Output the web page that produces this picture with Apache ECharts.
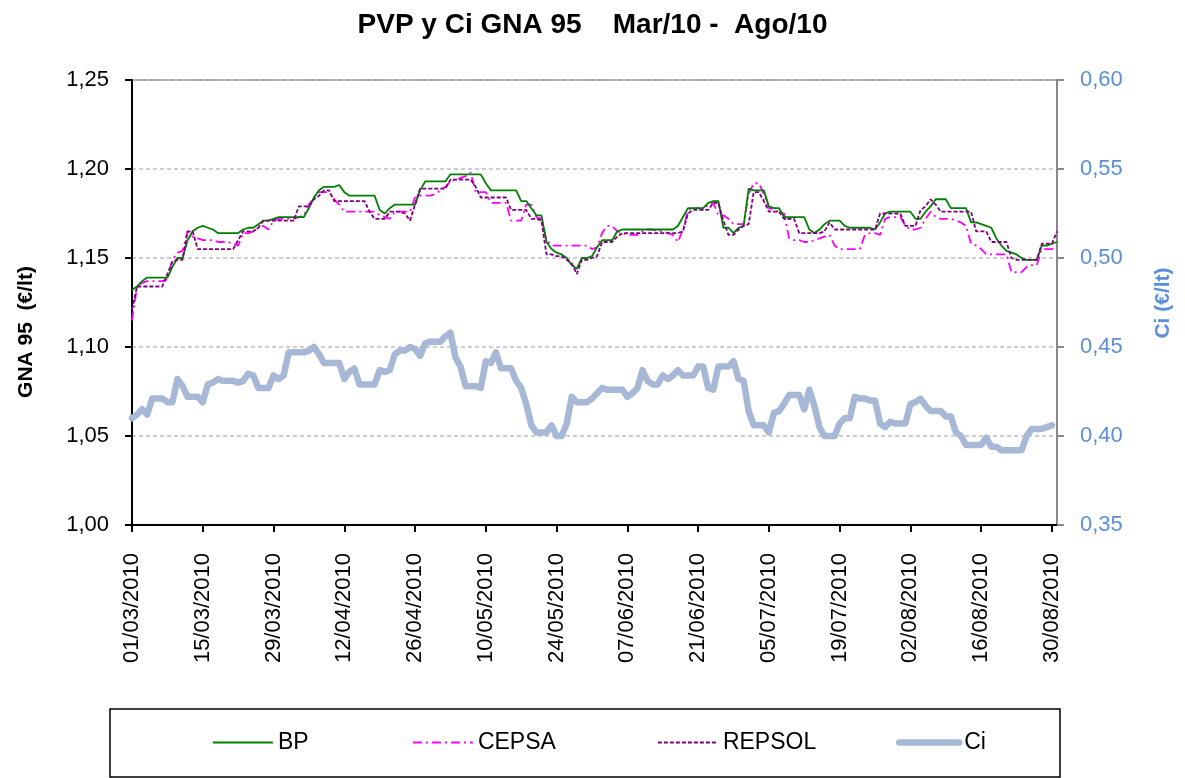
<!DOCTYPE html>
<html>
<head>
<meta charset="utf-8">
<title>PVP y Ci GNA 95</title>
<script src="https://cdn.jsdelivr.net/npm/echarts@6/dist/echarts.min.js"></script>
<style>
  html, body { margin: 0; padding: 0; background: #fff; }
  #chart { width: 1185px; height: 778px; }
</style>
</head>
<body>
<div id="chart"></div>
<script>
// fechas diarias 01/03/2010 .. 31/08/2010
var startDate = Date.UTC(2010, 2, 1);
var dayCount = 184;
var categories = [];
for (var d = 0; d < dayCount; d++) {
  var dt = new Date(startDate + d * 86400000);
  var dd = ('0' + dt.getUTCDate()).slice(-2);
  var mm = ('0' + (dt.getUTCMonth() + 1)).slice(-2);
  categories.push(dd + '/' + mm + '/' + dt.getUTCFullYear());
}

var bp = [
  1.132,1.134,1.137,1.139,1.139,1.139,1.139,1.139,1.145,1.150,
  1.150,1.160,1.165,1.167,1.168,1.167,1.166,1.164,1.164,1.164,
  1.164,1.164,1.166,1.167,1.167,1.169,1.171,1.171,1.172,1.173,
  1.173,1.173,1.173,1.173,1.173,1.178,1.184,1.188,1.190,1.190,
  1.190,1.191,1.187,1.185,1.185,1.185,1.185,1.185,1.185,1.177,
  1.175,1.178,1.180,1.180,1.180,1.180,1.180,1.188,1.193,1.193,
  1.193,1.193,1.193,1.197,1.197,1.197,1.197,1.197,1.197,1.197,
  1.192,1.188,1.188,1.188,1.188,1.188,1.188,1.182,1.182,1.178,
  1.174,1.174,1.159,1.155,1.153,1.152,1.150,1.146,1.144,1.150,
  1.150,1.151,1.156,1.160,1.160,1.160,1.165,1.166,1.166,1.166,
  1.166,1.166,1.166,1.166,1.166,1.166,1.166,1.166,1.168,1.173,
  1.178,1.178,1.178,1.178,1.181,1.182,1.182,1.167,1.167,1.164,
  1.167,1.168,1.189,1.188,1.188,1.188,1.179,1.178,1.178,1.173,
  1.173,1.173,1.173,1.173,1.166,1.164,1.166,1.169,1.171,1.171,
  1.171,1.168,1.167,1.167,1.167,1.167,1.167,1.166,1.170,1.175,
  1.176,1.176,1.176,1.176,1.176,1.172,1.172,1.176,1.179,1.183,
  1.183,1.183,1.178,1.178,1.178,1.178,1.170,1.170,1.169,1.168,
  1.167,1.161,1.157,1.154,1.153,1.152,1.150,1.149,1.149,1.149,
  1.157,1.157,1.158,1.159
];

var cepsa = [
  1.115,1.134,1.136,1.137,1.137,1.137,1.137,1.138,1.149,1.153,
  1.154,1.165,1.162,1.161,1.160,1.160,1.160,1.159,1.159,1.159,
  1.158,1.157,1.164,1.164,1.165,1.167,1.168,1.166,1.171,1.172,
  1.172,1.172,1.172,1.173,1.174,1.180,1.184,1.187,1.187,1.187,
  1.183,1.180,1.176,1.176,1.176,1.176,1.176,1.176,1.176,1.174,
  1.173,1.172,1.176,1.176,1.176,1.176,1.184,1.185,1.185,1.185,
  1.186,1.188,1.190,1.193,1.194,1.195,1.196,1.198,1.187,1.187,
  1.187,1.181,1.181,1.181,1.181,1.171,1.171,1.171,1.180,1.180,
  1.173,1.172,1.160,1.157,1.157,1.157,1.157,1.157,1.157,1.157,
  1.157,1.155,1.156,1.164,1.168,1.168,1.165,1.164,1.163,1.163,
  1.163,1.165,1.166,1.166,1.165,1.165,1.164,1.163,1.159,1.166,
  1.177,1.178,1.178,1.177,1.180,1.181,1.174,1.174,1.172,1.169,
  1.169,1.169,1.186,1.192,1.192,1.186,1.178,1.177,1.176,1.175,
  1.161,1.160,1.160,1.159,1.159,1.160,1.161,1.162,1.163,1.157,
  1.155,1.155,1.155,1.155,1.155,1.163,1.164,1.164,1.163,1.172,
  1.173,1.173,1.173,1.168,1.166,1.166,1.167,1.172,1.176,1.173,
  1.172,1.172,1.172,1.171,1.170,1.168,1.158,1.157,1.155,1.152,
  1.152,1.152,1.152,1.152,1.142,1.142,1.142,1.145,1.146,1.146,
  1.155,1.155,1.155,1.156
];

var repsol = [
  1.121,1.134,1.134,1.134,1.134,1.134,1.134,1.141,1.148,1.149,
  1.149,1.165,1.165,1.155,1.155,1.155,1.155,1.155,1.155,1.155,
  1.155,1.160,1.165,1.165,1.165,1.167,1.171,1.171,1.171,1.171,
  1.171,1.171,1.171,1.179,1.179,1.179,1.183,1.185,1.188,1.188,
  1.182,1.182,1.182,1.182,1.182,1.182,1.182,1.176,1.172,1.172,
  1.172,1.176,1.176,1.176,1.175,1.171,1.180,1.189,1.189,1.189,
  1.189,1.189,1.189,1.194,1.194,1.194,1.194,1.194,1.190,1.184,
  1.184,1.184,1.184,1.184,1.184,1.177,1.177,1.177,1.177,1.172,
  1.172,1.171,1.152,1.152,1.151,1.151,1.149,1.147,1.141,1.149,
  1.149,1.150,1.151,1.159,1.159,1.159,1.162,1.164,1.164,1.164,
  1.164,1.164,1.164,1.164,1.164,1.164,1.164,1.164,1.164,1.165,
  1.175,1.177,1.177,1.177,1.177,1.181,1.181,1.171,1.163,1.163,
  1.166,1.168,1.169,1.187,1.187,1.182,1.176,1.176,1.176,1.172,
  1.172,1.172,1.164,1.164,1.164,1.164,1.164,1.165,1.170,1.166,
  1.166,1.166,1.166,1.166,1.166,1.166,1.166,1.166,1.175,1.175,
  1.175,1.175,1.175,1.168,1.168,1.168,1.177,1.179,1.183,1.180,
  1.176,1.176,1.176,1.176,1.176,1.176,1.176,1.165,1.165,1.165,
  1.159,1.159,1.159,1.159,1.150,1.149,1.149,1.149,1.149,1.149,
  1.158,1.158,1.158,1.165
];

var ci = [
  0.410,0.412,0.415,0.412,0.421,0.421,0.421,0.419,0.419,0.432,
  0.428,0.422,0.422,0.422,0.419,0.429,0.430,0.432,0.431,0.431,
  0.431,0.430,0.431,0.435,0.434,0.427,0.427,0.427,0.434,0.432,
  0.434,0.447,0.447,0.447,0.447,0.448,0.450,0.446,0.441,0.441,
  0.441,0.441,0.432,0.436,0.438,0.429,0.429,0.429,0.429,0.437,
  0.436,0.437,0.446,0.448,0.448,0.450,0.449,0.445,0.452,0.453,
  0.453,0.453,0.456,0.458,0.444,0.439,0.428,0.428,0.428,0.427,
  0.442,0.441,0.447,0.438,0.438,0.438,0.431,0.427,0.418,0.406,
  0.402,0.402,0.402,0.406,0.400,0.400,0.407,0.422,0.419,0.419,
  0.419,0.421,0.424,0.427,0.426,0.426,0.426,0.426,0.422,0.424,
  0.427,0.437,0.431,0.429,0.429,0.434,0.432,0.434,0.437,0.434,
  0.434,0.434,0.439,0.439,0.427,0.426,0.439,0.439,0.439,0.442,
  0.432,0.431,0.414,0.406,0.406,0.406,0.402,0.413,0.414,0.418,
  0.423,0.423,0.423,0.415,0.426,0.417,0.405,0.400,0.400,0.400,
  0.407,0.410,0.410,0.422,0.421,0.421,0.420,0.420,0.407,0.405,
  0.408,0.407,0.407,0.407,0.418,0.419,0.421,0.417,0.414,0.414,
  0.414,0.411,0.411,0.402,0.400,0.395,0.395,0.395,0.395,0.399,
  0.394,0.394,0.392,0.392,0.392,0.392,0.392,0.400,0.404,0.404,
  0.404,0.405,0.406
];

var fontFam = 'Arial, "Liberation Sans", sans-serif';
var blue = '#5B8FD6';
var comma = function (v) { return v.toFixed(2).replace('.', ','); };

var myChart = echarts.init(document.getElementById('chart'));

myChart.setOption({
  animation: false,
  backgroundColor: '#fff',
  title: {
    text: 'PVP y Ci GNA 95    Mar/10 -  Ago/10',
    left: 'center',
    top: 6,
    textStyle: { fontFamily: fontFam, fontSize: 28, fontWeight: 'bold', color: '#000' }
  },
  grid: {
    left: 132, right: 128, top: 80, bottom: 253,
    show: true, borderColor: '#888', borderWidth: 1.5, backgroundColor: '#fff'
  },
  legend: [
    { data: ['BP'], left: 212 },
    { data: ['CEPSA'], left: 412 },
    { data: ['REPSOL'], left: 657 },
    { data: ['Ci'], left: 896 }
  ].map(function (l) {
    l.top = 731; l.padding = 0; l.itemWidth = 60; l.itemHeight = 14;
    l.itemStyle = { opacity: 0 };
    l.lineStyle = { width: 'inherit' };
    l.textStyle = { fontFamily: fontFam, fontSize: 23, color: '#000' };
    return l;
  }),
  xAxis: {
    type: 'category',
    data: categories,
    boundaryGap: false,
    axisLine: { lineStyle: { color: '#000', width: 2 } },
    axisTick: { interval: 13, length: 7, lineStyle: { color: '#000', width: 2 } },
    axisLabel: {
      interval: 13, rotate: 90, margin: 28,
      fontFamily: fontFam, fontSize: 22, color: '#000'
    },
    splitLine: { show: false }
  },
  yAxis: [
    {
      type: 'value', min: 1.00, max: 1.25, interval: 0.05,
      position: 'left',
      axisLine: { show: true, lineStyle: { color: '#000', width: 2 } },
      axisTick: { show: true, length: 7, lineStyle: { color: '#000', width: 2 } },
      axisLabel: { formatter: comma, margin: 23, fontFamily: fontFam, fontSize: 22, color: '#000' },
      splitLine: { show: true, lineStyle: { color: '#BFBFBF', width: 1.5, type: [4, 3] } }
    },
    {
      type: 'value', min: 0.35, max: 0.60, interval: 0.05,
      position: 'right',
      axisLine: { show: true, lineStyle: { color: '#888', width: 2 } },
      axisTick: { show: true, length: 7, lineStyle: { color: '#888', width: 2 } },
      axisLabel: { formatter: comma, margin: 23, fontFamily: fontFam, fontSize: 22, color: blue },
      splitLine: { show: false }
    }
  ],
  graphic: [
    {
      type: 'rect', z: -1,
      shape: { x: 110, y: 709, width: 950, height: 68 },
      style: { fill: 'none', stroke: '#000', lineWidth: 1.5 }
    },
    {
      type: 'text', x: 26, y: 332, rotation: Math.PI / 2,
      style: {
        text: 'GNA 95  (€/lt)', fill: '#000',
        font: 'bold 21px ' + fontFam,
        align: 'center', verticalAlign: 'middle',
        textAlign: 'center', textVerticalAlign: 'middle'
      }
    },
    {
      type: 'text', x: 1163, y: 303, rotation: Math.PI / 2,
      style: {
        text: 'Ci (€/lt)', fill: blue,
        font: 'bold 21px ' + fontFam,
        align: 'center', verticalAlign: 'middle',
        textAlign: 'center', textVerticalAlign: 'middle'
      }
    }
  ],
  series: [
    {
      name: 'Ci', type: 'line', yAxisIndex: 1, data: ci,
      symbol: 'none', z: 1,
      lineStyle: { color: '#A6B8D6', width: 6.5, cap: 'round', join: 'round' },
      itemStyle: { color: '#A6B8D6' }
    },
    {
      name: 'BP', type: 'line', yAxisIndex: 0, data: bp,
      symbol: 'none', z: 3,
      lineStyle: { color: '#008000', width: 1.8 },
      itemStyle: { color: '#008000' }
    },
    {
      name: 'CEPSA', type: 'line', yAxisIndex: 0, data: cepsa,
      symbol: 'none', z: 2,
      lineStyle: { color: '#FF00FF', width: 1.8, type: [9, 4, 2, 4] },
      itemStyle: { color: '#FF00FF' }
    },
    {
      name: 'REPSOL', type: 'line', yAxisIndex: 0, data: repsol,
      symbol: 'none', z: 4,
      lineStyle: { color: '#800080', width: 1.8, type: [4, 2] },
      itemStyle: { color: '#800080' }
    }
  ]
});

window.onresize = function () {
  myChart.resize();
};
</script>
</body>
</html>
